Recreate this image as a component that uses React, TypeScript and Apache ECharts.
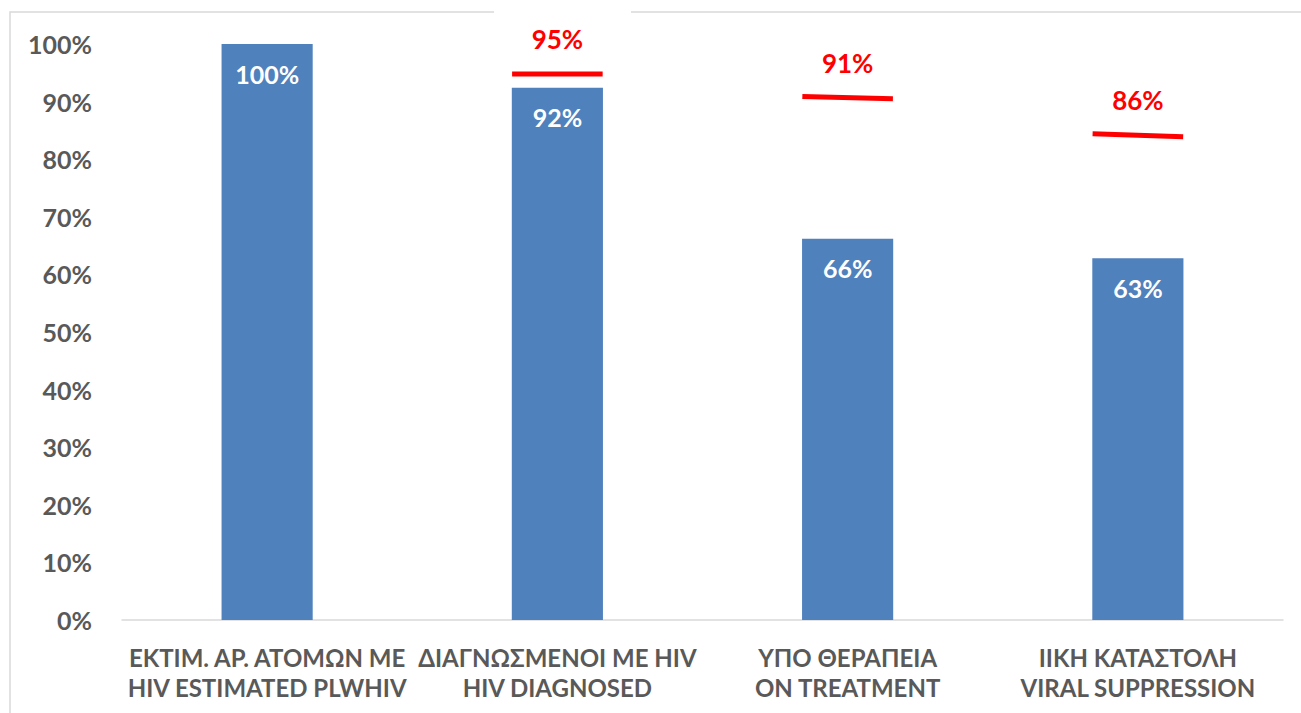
import React, { useEffect, useRef } from "react";
import * as echarts from "echarts";

const categories = [
  "ΕΚΤΙΜ. ΑΡ. ΑΤΟΜΩΝ ΜΕ\nHIV ESTIMATED PLWHIV",
  "ΔΙΑΓΝΩΣΜΕΝΟΙ ΜΕ HIV\nHIV DIAGNOSED",
  "ΥΠΟ ΘΕΡΑΠΕΙΑ\nON TREATMENT",
  "ΙΙΚΗ ΚΑΤΑΣΤΟΛΗ\nVIRAL SUPPRESSION",
];
const barValues = [100, 92.4, 66.2, 62.8];
const barLabels = ["100%", "92%", "66%", "63%"];

const targetCategoryIndex = [1, 2, 3];
const targetLeft = [94.8, 90.9, 84.4];
const targetRight = [94.8, 90.5, 83.9];
const targetLabels = ["95%", "91%", "86%"];

const FONT = "Lato, 'Open Sans', sans-serif";

export default function App() {
  const ref = useRef<HTMLDivElement>(null);
  useEffect(() => {
    if (!ref.current) return;
    const chart = echarts.init(ref.current, undefined, { renderer: "svg" });
    chart.setOption({
      animation: false,
      backgroundColor: "#ffffff",
      textStyle: { fontFamily: FONT },
      grid: { left: 122, right: 18, top: 44, bottom: 93, containLabel: false },
      graphic: [
        {
          type: "rect",
          z: 0,
          shape: { x: 10, y: 12, width: 1300, height: 720 },
          style: { fill: "none", stroke: "#D9D9D9", lineWidth: 1.5 },
        },
        {
          type: "rect",
          z: 10,
          shape: { x: 494, y: 4, width: 137, height: 16 },
          style: { fill: "#ffffff" },
        },
      ],
      xAxis: {
        type: "category",
        data: categories,
        axisLine: { show: true, lineStyle: { color: "#D9D9D9", width: 1.5 } },
        axisTick: { show: false },
        axisLabel: {
          interval: 0,
          color: "#595959",
          fontSize: 24,
          fontWeight: "bold",
          fontFamily: FONT,
          lineHeight: 30,
          margin: 22,
        },
      },
      yAxis: {
        type: "value",
        min: 0,
        max: 100,
        interval: 10,
        splitLine: { show: false },
        axisLine: { show: false },
        axisTick: { show: false },
        axisLabel: {
          formatter: "{value}%",
          color: "#595959",
          fontSize: 25,
          fontWeight: "bold",
          fontFamily: FONT,
          margin: 30,
        },
      },
      series: [
        {
          type: "bar",
          data: barValues,
          barWidth: "31.4%",
          itemStyle: { color: "#4F81BD" },
          label: {
            show: true,
            position: "insideTop",
            distance: 17,
            color: "#ffffff",
            fontSize: 25,
            fontWeight: "bold",
            fontFamily: FONT,
            formatter: (p: any) => barLabels[p.dataIndex],
          },
        },
        {
          type: "custom",
          clip: false,
          z: 5,
          data: targetCategoryIndex.map((c, i) => [c, targetLeft[i], targetRight[i]]),
          encode: { x: 0, y: [1, 2] },
          renderItem: (params: any, api: any) => {
            const idx = api.value(0);
            const p1 = api.coord([idx, api.value(1)]);
            const p2 = api.coord([idx, api.value(2)]);
            const band = api.size([1, 0])[0];
            const half = band * 0.156;
            const midY = (p1[1] + p2[1]) / 2;
            return {
              type: "group",
              children: [
                {
                  type: "line",
                  shape: { x1: p1[0] - half, y1: p1[1], x2: p2[0] + half, y2: p2[1] },
                  style: { stroke: "#FF0000", lineWidth: 5 },
                },
                {
                  type: "text",
                  x: p1[0],
                  y: midY - 35,
                  style: {
                    text: targetLabels[params.dataIndex],
                    fill: "#FF0000",
                    fontSize: 26,
                    fontWeight: "bold",
                    fontFamily: FONT,
                    align: "center",
                    verticalAlign: "middle",
                  },
                },
              ],
            };
          },
        },
      ],
    });
    return () => chart.dispose();
  }, []);
  return (
    <div
      ref={ref}
      style={{ position: "fixed", left: 0, top: 0, width: 1301, height: 713 }}
    />
  );
}
